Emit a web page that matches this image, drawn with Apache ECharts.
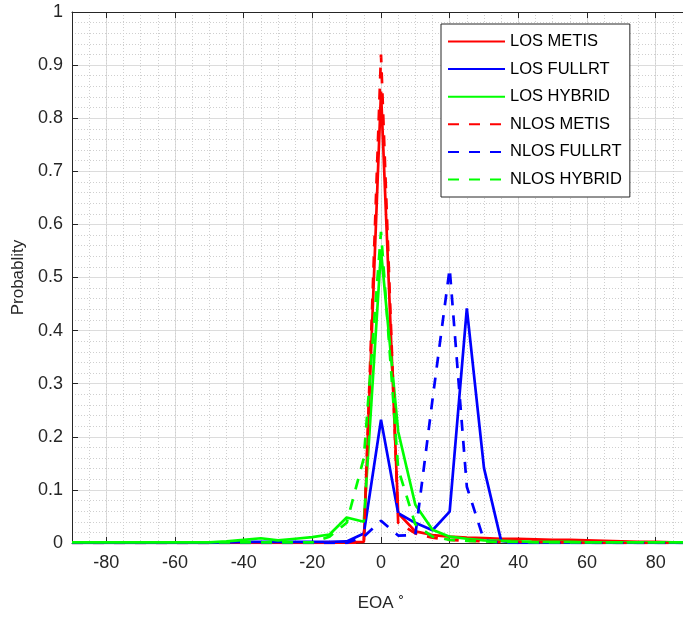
<!DOCTYPE html>
<html>
<head>
<meta charset="utf-8">
<script src="https://cdn.jsdelivr.net/npm/echarts@6/dist/echarts.min.js"></script>
<style>
  html, body { margin: 0; padding: 0; background: #ffffff; overflow: hidden; }
  /* the axes box runs slightly past the right edge of the window */
  #chart { width: 690px; height: 619px; }
</style>
</head>
<body>
<div id="chart"></div>
<script>
// Elevation-of-arrival angle bins (degrees)
const eoaDeg = [-90, -85, -80, -75, -70, -65, -60, -55, -50, -45, -40, -35, -30, -25, -20, -15, -10, -5,
  0, 5, 10, 15, 20, 25, 30, 35, 40, 45, 50, 55, 60, 65, 70, 75, 80, 85, 90];

// Probability per bin
const losMetis = [0, 0, 0, 0, 0, 0, 0, 0, 0, 0, 0, 0, 0, 0, 0, 0, 0.001, 0.002,
  0.85, 0.056, 0.022, 0.015, 0.012, 0.010, 0.009, 0.008, 0.008, 0.007, 0.006, 0.006, 0.005, 0.004, 0.003, 0.002, 0.002, 0.001, 0.001];
const losFullrt = [0, 0, 0, 0, 0, 0, 0, 0, 0, 0.001, 0.002, 0.002, 0.002, 0.002, 0.002, 0.002, 0.003, 0.018,
  0.232, 0.056, 0.038, 0.024, 0.059, 0.442, 0.141, 0.004, 0, 0, 0, 0, 0, 0, 0, 0, 0, 0, 0];
const losHybrid = [0.001, 0.001, 0.001, 0.001, 0.001, 0.001, 0.001, 0.001, 0.001, 0.003, 0.006, 0.009, 0.005, 0.008, 0.011, 0.016, 0.048, 0.040,
  0.55, 0.21, 0.072, 0.025, 0.012, 0.008, 0.005, 0.004, 0.003, 0.002, 0.002, 0.002, 0.001, 0.001, 0.001, 0.001, 0.001, 0.001, 0.001];
const nlosMetis = [0, 0, 0, 0, 0, 0, 0, 0, 0, 0, 0, 0, 0, 0, 0, 0, 0, 0.001,
  0.92, 0.038, 0.018, 0.010, 0.006, 0.004, 0.003, 0.002, 0.002, 0.002, 0.001, 0.001, 0, 0, 0, 0, 0, 0, 0];
const nlosFullrt = [0, 0, 0, 0, 0, 0, 0, 0, 0, 0, 0, 0, 0, 0, 0, 0, 0, 0.012,
  0.042, 0.014, 0.015, 0.27, 0.517, 0.106, 0.005, 0, 0, 0, 0, 0, 0, 0, 0, 0, 0, 0, 0];
const nlosHybrid = [0.001, 0.001, 0.001, 0.001, 0.001, 0.001, 0.001, 0.001, 0.001, 0.001, 0.001, 0.001, 0.001, 0.001, 0.001, 0.012, 0.038, 0.16,
  0.586, 0.14, 0.035, 0.012, 0.006, 0.004, 0.003, 0.002, 0.002, 0.001, 0.001, 0.001, 0.001, 0.001, 0.001, 0.001, 0.001, 0.001, 0.001];

// Tick labels
const xTicks = [-80, -60, -40, -20, 0, 20, 40, 60, 80];
const seriesNames = ['LOS METIS', 'LOS FULLRT', 'LOS HYBRID', 'NLOS METIS', 'NLOS FULLRT', 'NLOS HYBRID'];
const seriesValues = [losMetis, losFullrt, losHybrid, nlosMetis, nlosFullrt, nlosHybrid];
const seriesColors = ['#ff0000', '#0000ff', '#00ff00', '#ff0000', '#0000ff', '#00ff00'];
const seriesDashed = [false, false, false, true, true, true];

const axisInk = '#262626';
const majorGrid = '#dcdcdc';
const minorGrid = '#cfcfcf';
const font = 'Liberation Sans, Arial, Helvetica, sans-serif';

const chart = echarts.init(document.getElementById('chart'), null, { renderer: 'canvas' });

const series = seriesNames.map((name, k) => ({
  name,
  type: 'line',
  xAxisIndex: 0,
  yAxisIndex: 0,
  symbol: 'none',
  silent: true,
  lineStyle: {
    color: seriesColors[k],
    width: 2.7,
    type: seriesDashed[k] ? [11, 10] : 'solid'
  },
  itemStyle: { color: seriesColors[k] },
  data: eoaDeg.map((x, i) => [x, seriesValues[k][i]])
}));

const option = {
  animation: false,
  backgroundColor: '#ffffff',
  textStyle: { fontFamily: font },
  grid: { left: 72, right: 0, top: 12, bottom: 76, containLabel: false },
  legend: {
    data: seriesNames,
    orient: 'vertical',
    left: 441,
    top: 24,
    itemWidth: 57,
    itemHeight: 14,
    itemGap: 10.6,
    itemTextGap: 5,
    padding: [9, 8, 9, 6],
    backgroundColor: '#ffffff',
    borderColor: axisInk,
    borderWidth: 1,
    selectedMode: false,
    itemStyle: { opacity: 0 },
    textStyle: { fontSize: 16.5, color: '#000000', fontFamily: font }
  },
  xAxis: [
    {
      // main bottom axis with labels and solid major grid
      type: 'value',
      position: 'bottom',
      min: -90,
      max: 90,
      interval: 5,
      name: '{a|EOA}{s|˚}',
      nameLocation: 'middle',
      nameGap: 52,
      nameTextStyle: {
        rich: {
          a: { fontSize: 17, color: axisInk, fontFamily: font },
          s: { fontSize: 17, color: axisInk, fontFamily: font, padding: [0, 0, 0, 5] }
        }
      },
      axisLine: { show: true, onZero: false, lineStyle: { color: axisInk, width: 1 } },
      axisTick: { show: true, inside: true, length: 6, customValues: xTicks, lineStyle: { color: axisInk } },
      axisLabel: { show: true, customValues: xTicks, fontSize: 18, color: axisInk, margin: 11, fontFamily: font },
      splitLine: { show: true, lineStyle: { color: majorGrid, width: 1, type: 'solid' } },
      minorTick: { show: false },
      minorSplitLine: { show: false }
    },
    {
      // top box edge
      type: 'value',
      position: 'top',
      min: -90,
      max: 90,
      interval: 5,
      axisLine: { show: true, onZero: false, lineStyle: { color: axisInk, width: 1 } },
      axisTick: { show: true, inside: true, length: 6, customValues: xTicks, lineStyle: { color: axisInk } },
      axisLabel: { show: false },
      splitLine: { show: false }
    },
    {
      // dotted minor grid every 5 degrees
      type: 'value',
      position: 'bottom',
      min: -90,
      max: 90,
      interval: 5,
      axisLine: { show: false },
      axisTick: { show: false },
      axisLabel: { show: false },
      splitLine: { show: true, lineStyle: { color: minorGrid, width: 1, type: [1, 2] } }
    }
  ],
  yAxis: [
    {
      type: 'value',
      position: 'left',
      min: 0,
      max: 1,
      interval: 0.1,
      name: 'Probablity',
      nameLocation: 'middle',
      nameGap: 41,
      nameRotate: 90,
      nameTextStyle: { fontSize: 17, color: axisInk, fontFamily: font },
      axisLine: { show: true, onZero: false, lineStyle: { color: axisInk, width: 1 } },
      axisTick: { show: true, inside: true, length: 6, lineStyle: { color: axisInk } },
      axisLabel: { fontSize: 18, color: axisInk, margin: 9, fontFamily: font },
      splitLine: { show: true, lineStyle: { color: majorGrid, width: 1 } },
      minorTick: { show: false, splitNumber: 5 },
      minorSplitLine: { show: true, lineStyle: { color: minorGrid, width: 1, type: [1, 2] } }
    }
  ],
  series
};

chart.setOption(option);
</script>
</body>
</html>
